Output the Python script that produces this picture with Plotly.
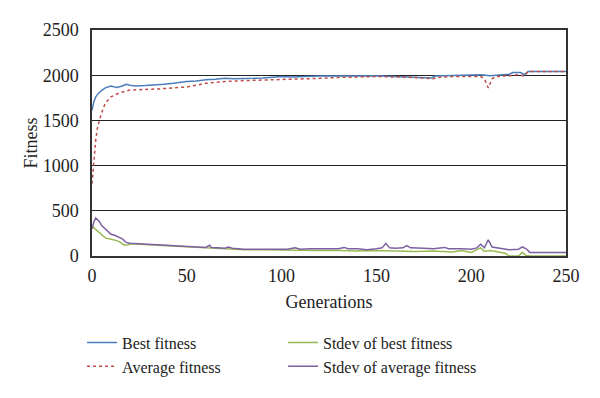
import plotly.graph_objects as go

# ---- data ----
gen_best = [0, 1, 2, 3, 5, 7, 10, 13, 16, 18, 20, 23, 28, 33, 38, 43, 50, 55, 60, 65, 70, 75, 80, 85, 90, 95,
            100, 105, 110, 120, 130, 140, 150, 160, 170, 179, 181, 190, 200, 205, 210, 215, 220, 222, 226, 228, 230, 250]
best_fitness = [1610, 1710, 1760, 1790, 1830, 1860, 1880, 1865, 1880, 1900, 1890, 1880, 1885, 1890, 1900, 1910,
                1930, 1935, 1950, 1955, 1965, 1960, 1960, 1965, 1970, 1975, 1985, 1980, 1985, 1990, 1990, 1995,
                1995, 1985, 1980, 1970, 1990, 1995, 2000, 2005, 1995, 2000, 2010, 2030, 2030, 2005, 2040, 2040]

gen_avg = [0, 1, 2, 3, 5, 7, 10, 14, 16, 20, 25, 30, 35, 40, 45, 50, 55, 60, 65, 70, 80, 90, 100, 110, 120,
           130, 140, 150, 160, 170, 180, 182, 190, 200, 205, 207, 209, 211, 213, 220, 225, 228, 230, 250]
avg_fitness = [800, 1060, 1290, 1430, 1580, 1690, 1760, 1800, 1815, 1835, 1838, 1840, 1848, 1855,
               1860, 1870, 1890, 1910, 1920, 1930, 1940, 1945, 1955, 1960, 1965, 1975, 1980, 1985, 1980, 1975,
               1960, 1975, 1985, 1980, 1985, 1960, 1860, 1960, 1985, 1995, 2005, 1990, 2040, 2040]

gen_sd_best = [0, 1, 3, 5, 7, 9, 11, 13, 15, 17, 19, 21, 25, 30, 35, 40, 45, 50, 55, 60, 70, 80, 90, 100, 110,
               120, 130, 140, 150, 160, 170, 180, 190, 195, 200, 205, 207, 210, 215, 218, 220, 225, 227, 229, 231, 250]
sd_best = [330, 310, 280, 230, 200, 190, 180, 170, 150, 120, 125, 135, 130, 125, 120, 110, 105, 100, 95, 90, 80,
           70, 70, 65, 65, 60, 60, 55, 60, 55, 50, 55, 45, 60, 40, 90, 50, 60, 40, 30, 0, 0, 40, 5, 0, 0]

gen_sd_avg = [0, 1, 2, 3, 4, 5, 6, 7, 8, 9, 10, 12, 14, 16, 17, 18, 20, 25, 30, 35, 40, 45, 50, 55, 60, 62, 63,
              66, 70, 72, 74, 80, 85, 90, 95, 100, 103, 107, 110, 115, 120, 125, 130, 133, 135, 140, 145, 150,
              153, 155, 157, 160, 164, 166, 168, 175, 180, 186, 188, 195, 200, 203, 205, 207, 209, 211, 215, 220,
              225, 227, 229, 231, 250]
sd_avg = [300, 380, 420, 400, 380, 340, 320, 290, 280, 260, 240, 230, 210, 190, 170, 150, 140, 135, 130, 125,
          120, 110, 105, 100, 95, 120, 95, 90, 85, 100, 85, 75, 75, 80, 75, 80, 75, 90, 75, 80, 80, 75, 80, 95,
          80, 80, 70, 80, 90, 140, 90, 85, 90, 115, 90, 85, 80, 95, 80, 80, 75, 90, 130, 90, 180, 100, 85, 70,
          75, 100, 80, 40, 40]

x_ticks = [0, 50, 100, 150, 200, 250]
y_ticks = [0, 500, 1000, 1500, 2000, 2500]

FONT = "Liberation Serif, Times New Roman, serif"

fig = go.Figure()
fig.add_trace(go.Scatter(x=gen_best, y=best_fitness, mode="lines", name="Best fitness",
                         line=dict(color="#4a7ebb", width=1.5), legend="legend"))
fig.add_trace(go.Scatter(x=gen_avg, y=avg_fitness, mode="lines", name="Average fitness",
                         line=dict(color="#be4b48", width=1.5, dash="dot"), legend="legend"))
fig.add_trace(go.Scatter(x=gen_sd_best, y=sd_best, mode="lines", name="Stdev of best fitness",
                         line=dict(color="#98b954", width=1.5), legend="legend2"))
fig.add_trace(go.Scatter(x=gen_sd_avg, y=sd_avg, mode="lines", name="Stdev of average fitness",
                         line=dict(color="#7d60a0", width=1.5), legend="legend2"))

fig.update_layout(
    width=600, height=398,
    margin=dict(l=84, r=42, t=22, b=150),
    paper_bgcolor="white", plot_bgcolor="white",
    font=dict(family=FONT, size=18, color="#222"),
    xaxis=dict(range=[0, 250], tickvals=x_ticks, showgrid=False, zeroline=False,
               showline=True, linecolor="#333", linewidth=1.5, mirror=True, ticks="",
               ticklabelstandoff=3, tickfont=dict(size=18),
               title=dict(text="Generations", standoff=10, font=dict(size=18))),
    yaxis=dict(range=[0, 2500], tickvals=y_ticks, showgrid=True, gridcolor="#222", gridwidth=1,
               zeroline=False, showline=True, linecolor="#333", linewidth=1.5, mirror=True, ticks="",
               ticklabelstandoff=8, tickfont=dict(size=18),
               title=dict(text="Fitness", standoff=0, font=dict(size=18))),
    legend=dict(x=-0.021, y=-0.308, xanchor="left", yanchor="top", orientation="v",
                bgcolor="rgba(0,0,0,0)", font=dict(size=16), tracegroupgap=0, traceorder="normal"),
    legend2=dict(x=0.403, y=-0.308, xanchor="left", yanchor="top", orientation="v",
                 bgcolor="rgba(0,0,0,0)", font=dict(size=16), tracegroupgap=0, traceorder="normal"),
    showlegend=True,
)

fig.write_html("out.html")
